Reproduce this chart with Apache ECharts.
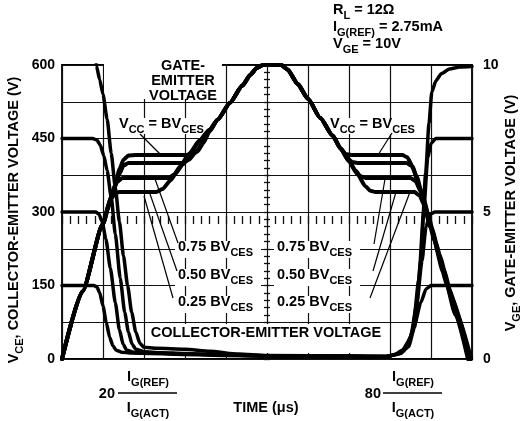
<!DOCTYPE html>
<html><head><meta charset="utf-8">
<script src="https://cdn.jsdelivr.net/npm/echarts@6/dist/echarts.min.js"></script>
<style>html,body{margin:0;padding:0;background:#fff}#c{width:529px;height:421px}</style>
</head><body><div id="c"></div>
<script>
// Time axis in divisions (0..10), tick labels
const leftTicks = [0, 150, 300, 450, 600];
const rightTicks = [0, 5, 10];

// Collector-emitter voltage curves [time div, V]
const vce150 = [[0,150],[0.78,150],[0.85,147],[0.92,135],[1.0,108],[1.08,75],[1.16,45],[1.24,27],[1.32,18],[1.45,14],[1.7,12],[2.2,11],[3,9],[4,7],[5,6],[7,5.5],[7.9,5],[8.1,8],[8.3,18],[8.45,35],[8.6,70],[8.75,115],[8.88,143],[9.0,150],[10,150]];
const vce300 = [[0,300],[0.82,300],[0.9,296],[0.98,280],[1.07,245],[1.18,185],[1.3,115],[1.4,60],[1.49,30],[1.58,18],[1.75,14],[2.2,12],[3,10],[4,8],[5,6],[7,5.5],[7.9,5],[8.15,9],[8.35,20],[8.5,45],[8.65,110],[8.78,200],[8.88,270],[8.97,295],[9.1,300],[10,300]];
const vce450 = [[0,450],[0.75,450],[0.85,447],[0.93,437],[1.02,415],[1.1,385],[1.2,330],[1.3,255],[1.42,165],[1.53,95],[1.62,55],[1.71,30],[1.8,20],[2.0,15],[2.4,13],[3,11],[4,8],[5,6],[7,5.5],[7.9,5],[8.2,10],[8.4,22],[8.55,55],[8.7,160],[8.82,300],[8.92,410],[9.0,440],[9.12,450],[10,450]];
const vce600 = [[0.78,640],[0.84,598],[0.92,570],[1.0,540],[1.1,490],[1.2,420],[1.3,350],[1.4,280],[1.5,210],[1.6,150],[1.7,95],[1.8,55],[1.9,32],[2.0,24],[2.3,22],[3.0,20],[3.6,16],[4.3,10],[5.0,7],[7,6],[7.9,5],[8.25,11],[8.45,25],[8.6,65],[8.75,200],[8.87,380],[8.95,480],[9.02,545],[9.12,568],[9.25,582],[9.45,592],[9.7,596],[10,597]];

// Gate-emitter voltage curves [time div, V]
const vge100 = [[0,0],[0.5,2.3],[1.0,4.6],[1.2,5.5],[1.3,5.95],[1.4,6.45],[1.5,6.78],[1.62,6.92],[1.8,6.94],[3.15,6.94],[3.3,7.05],[3.45,7.35],[3.6,7.75],[3.8,8.15],[4.1,8.72],[4.4,9.3],[4.6,9.68],[4.75,9.9],[4.9,10],[5.35,10],[5.5,9.85],[5.75,9.35],[6.0,8.85],[6.3,8.2],[6.6,7.6],[6.8,7.15],[6.92,6.97],[7.05,6.94],[8.3,6.94],[8.42,6.86],[8.55,6.55],[8.7,5.9],[9.0,4.45],[9.3,2.95],[9.6,1.5],[9.9,0]];
const vge075 = [[0,0],[0.5,2.3],[1.0,4.6],[1.2,5.5],[1.3,5.9],[1.4,6.3],[1.5,6.58],[1.62,6.67],[2.95,6.67],[3.1,6.78],[3.3,7.1],[3.45,7.42],[3.6,7.75],[3.8,8.15],[4.1,8.72],[4.4,9.3],[4.6,9.68],[4.75,9.9],[4.9,10],[5.35,10],[5.5,9.85],[5.75,9.35],[6.0,8.85],[6.3,8.2],[6.6,7.6],[6.8,7.15],[6.95,6.85],[7.08,6.7],[7.2,6.67],[8.4,6.67],[8.52,6.58],[8.65,6.22],[8.8,5.5],[9.1,4.0],[9.4,2.5],[9.92,0]];
const vge050 = [[0,0],[0.5,2.3],[1.0,4.6],[1.15,5.3],[1.25,5.75],[1.35,6.02],[1.47,6.16],[2.6,6.16],[2.75,6.28],[2.95,6.62],[3.15,7.02],[3.35,7.42],[3.6,7.8],[3.8,8.15],[4.1,8.72],[4.4,9.3],[4.6,9.68],[4.75,9.9],[4.9,10],[5.35,10],[5.5,9.85],[5.75,9.35],[6.0,8.85],[6.3,8.2],[6.6,7.6],[6.8,7.15],[7.0,6.73],[7.15,6.42],[7.28,6.22],[7.4,6.16],[8.5,6.16],[8.62,6.05],[8.75,5.7],[8.9,5.0],[9.2,3.55],[9.5,2.1],[9.95,0]];
const vge025 = [[0,0],[0.5,2.3],[1.0,4.6],[1.1,5.05],[1.2,5.45],[1.3,5.64],[1.4,5.68],[2.3,5.68],[2.45,5.78],[2.65,6.08],[2.88,6.55],[3.1,6.98],[3.35,7.42],[3.6,7.8],[3.8,8.15],[4.1,8.72],[4.4,9.3],[4.6,9.68],[4.75,9.9],[4.9,10],[5.35,10],[5.5,9.85],[5.75,9.35],[6.0,8.85],[6.3,8.2],[6.6,7.6],[6.8,7.15],[7.0,6.73],[7.2,6.3],[7.4,5.88],[7.52,5.72],[7.65,5.68],[8.6,5.68],[8.72,5.55],[8.85,5.2],[9.0,4.5],[9.3,3.05],[9.6,1.65],[9.98,0]];

const F = '"Liberation Sans", Arial, Helvetica, sans-serif';
const chart = echarts.init(document.getElementById('c'), null, {renderer: 'canvas'});

const rich = {
  m: {fontFamily: F, fontWeight: 'bold', fontSize: 14.5, fill: '#000', padding: [0, 0, 4, 0], verticalAlign: 'bottom'},
  s: {fontFamily: F, fontWeight: 'bold', fontSize: 11, fill: '#000', verticalAlign: 'bottom'}
};
function rtext(x, y, str, align, extra) {
  return Object.assign({
    type: 'text', x: x, y: y, z: 5,
    style: {text: str, rich: rich, align: align || 'left', verticalAlign: 'middle', fill: '#000'}
  }, extra || {});
}
function btext(x, y, str, align, size) {
  return {
    type: 'text', x: x, y: y, z: 5,
    style: {text: str, fill: '#000', fontFamily: F, fontWeight: 'bold', fontSize: size || 14.5, align: align || 'left', verticalAlign: 'middle'}
  };
}
function bgRect(x, y, w, h) {
  return {type: 'rect', z: 1, shape: {x: x, y: y, width: w, height: h}, style: {fill: '#fff'}};
}
function lead(x1, y1, x2, y2, w) {
  return {type: 'line', z: 4, shape: {x1: x1, y1: y1, x2: x2, y2: y2}, style: {stroke: '#000', lineWidth: w || 1.2}};
}
const bvLabel = p => '{m|' + p + ' BV}{s|CES}';
const vccLabel = '{m|V}{s|CC}{m| = BV}{s|CES}';
const frac = '{m|I}{s|G(REF)}';
const fracD = '{m|I}{s|G(ACT)}';

const graphics = [
  // white label backgrounds (hide graticule behind the labels)
  bgRect(104, 54, 118, 45),
  bgRect(117, 118, 92, 16),
  bgRect(328, 118, 88, 16),
  bgRect(175, 241, 86, 17),
  bgRect(175, 269, 86, 17),
  bgRect(175, 296, 86, 17),
  bgRect(274, 241, 86, 17),
  bgRect(274, 269, 86, 17),
  bgRect(274, 296, 86, 17),
  bgRect(146, 324, 242, 29),
  // gate-emitter label
  btext(183, 66, 'GATE-', 'center'),
  btext(183, 81, 'EMITTER', 'center'),
  btext(183, 96, 'VOLTAGE', 'center'),
  rtext(119, 126, vccLabel),
  rtext(330, 126, vccLabel),
  rtext(178, 249, bvLabel('0.75')),
  rtext(178, 277, bvLabel('0.50')),
  rtext(178, 304, bvLabel('0.25')),
  rtext(277, 249, bvLabel('0.75')),
  rtext(277, 277, bvLabel('0.50')),
  rtext(277, 304, bvLabel('0.25')),
  btext(266, 333, 'COLLECTOR-EMITTER VOLTAGE', 'center', 14.5),
  // leader lines
  lead(140, 134, 162, 156),
  lead(178, 243, 155, 179),
  lead(177, 271, 150, 194),
  lead(173, 298, 144, 196),
  lead(392, 133, 378, 155),
  lead(374, 244, 385, 179),
  lead(373, 271, 396, 192),
  lead(370, 298, 410, 192),
  // top-right conditions
  rtext(333, 12, '{m|R}{s|L}{m| = 12Ω}'),
  rtext(333, 29, '{m|I}{s|G(REF)}{m| = 2.75mA}'),
  rtext(333, 46, '{m|V}{s|GE}{m| = 10V}'),
  // bottom time scale notes
  btext(115, 394, '20', 'right'),
  rtext(148, 379, frac, 'center'),
  lead(118, 393, 177, 393, 1.3),
  rtext(148, 410, fracD, 'center'),
  btext(381, 394, '80', 'right'),
  rtext(413, 379, frac, 'center'),
  lead(383, 393, 442, 393, 1.3),
  rtext(413, 410, fracD, 'center'),
  btext(266, 408, 'TIME (μs)', 'center'),
  // axis titles
  rtext(16, 220, '{m|V}{s|CE}{m|, COLLECTOR-EMITTER VOLTAGE (V)}', 'center', {rotation: Math.PI / 2}),
  rtext(513, 213, '{m|V}{s|GE}{m|, GATE-EMITTER VOLTAGE (V)}', 'center', {rotation: Math.PI / 2})
];

function lineSeries(name, data, yIdx, w) {
  return {name: name, type: 'line', data: data, yAxisIndex: yIdx, xAxisIndex: 0, smooth: 0.2, smoothMonotone: 'x',
    showSymbol: false, symbol: 'none', z: 3, clip: true, silent: true,
    lineStyle: {color: '#000', width: w, cap: 'round', join: 'round'}};
}

const gridCol = '#111';
const axisLbl = {color: '#000', fontFamily: F, fontWeight: 'bold', fontSize: 14};
const option = {
  animation: false,
  backgroundColor: '#fff',
  grid: {left: 62, top: 65, width: 410, height: 294, show: true, borderColor: '#000', borderWidth: 1.8, backgroundColor: 'transparent'},
  xAxis: [
    {type: 'value', min: 0, max: 10, interval: 1, axisLine: {show: false}, axisTick: {show: false}, axisLabel: {show: false},
      splitLine: {show: true, lineStyle: {color: gridCol, width: 1.2}}},
    {type: 'value', min: 0, max: 10, interval: 1, position: 'bottom', offset: -151, axisLine: {show: false},
      axisTick: {show: true, length: 8, lineStyle: {color: gridCol, width: 1.3}},
      minorTick: {show: true, splitNumber: 5, length: 8, lineStyle: {color: gridCol, width: 1.3}},
      axisLabel: {show: false}, splitLine: {show: false}}
  ],
  yAxis: [
    {type: 'value', min: 0, max: 600, interval: 75, position: 'left', axisLine: {show: false}, axisTick: {show: false},
      axisLabel: Object.assign({margin: 7, formatter: v => leftTicks.indexOf(v) >= 0 ? String(v) : ''}, axisLbl),
      splitLine: {show: true, lineStyle: {color: gridCol, width: 1.2}}},
    {type: 'value', min: 0, max: 10, interval: 1.25, position: 'right', axisLine: {show: false}, axisTick: {show: false},
      axisLabel: Object.assign({margin: 11, formatter: v => rightTicks.indexOf(v) >= 0 ? String(v) : ''}, axisLbl),
      splitLine: {show: false}},
    {type: 'value', min: 0, max: 600, interval: 75, position: 'left', offset: -208, axisLine: {show: false},
      axisTick: {show: true, length: 6, lineStyle: {color: gridCol, width: 1.3}},
      minorTick: {show: true, splitNumber: 5, length: 6, lineStyle: {color: gridCol, width: 1.3}},
      axisLabel: {show: false}, splitLine: {show: false}}
  ],
  series: [
    lineSeries('VCE 0.25', vce150, 0, 3.5),
    lineSeries('VCE 0.50', vce300, 0, 3.5),
    lineSeries('VCE 0.75', vce450, 0, 3.5),
    lineSeries('VCE BV', vce600, 0, 3.5),
    lineSeries('VGE 0.25', vge025, 1, 4),
    lineSeries('VGE 0.50', vge050, 1, 4),
    lineSeries('VGE 0.75', vge075, 1, 4),
    lineSeries('VGE BV', vge100, 1, 4)
  ],
  graphic: graphics
};
chart.setOption(option);
</script></body></html>
